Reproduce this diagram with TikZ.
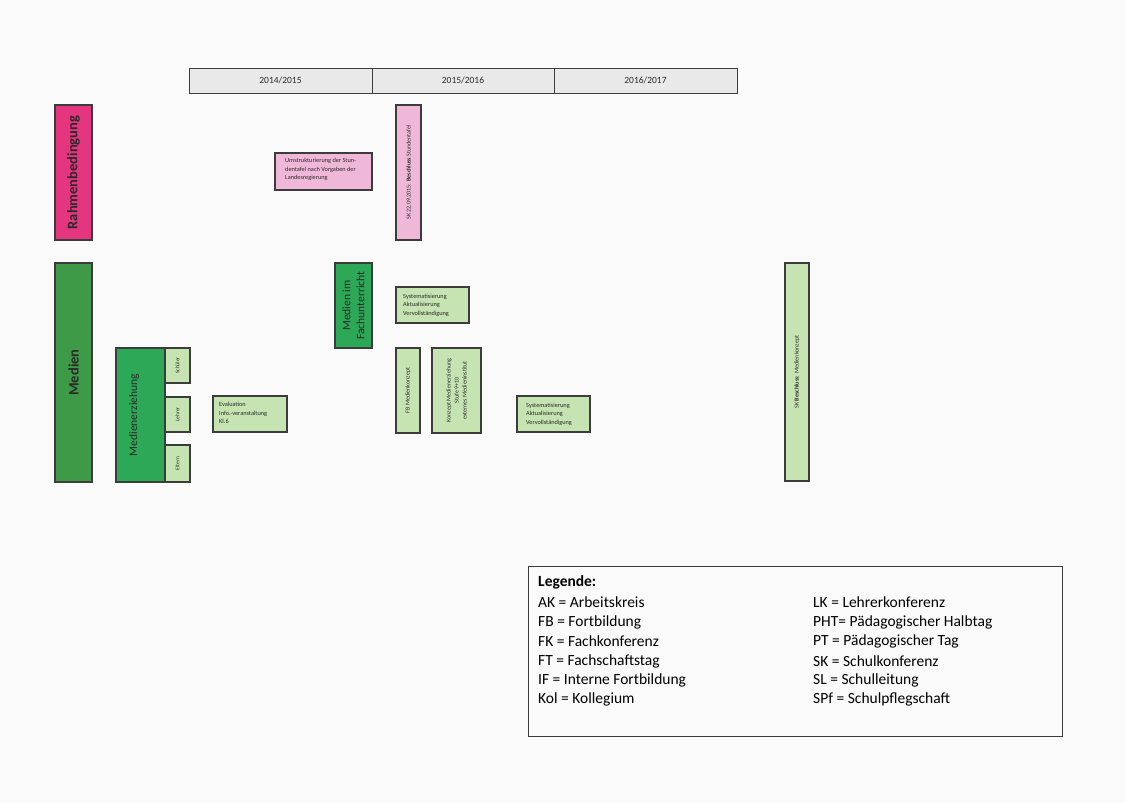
\documentclass[tikz,border=0pt]{standalone}
\usepackage{fontspec}
\setmainfont{Carlito}
\definecolor{paper}{HTML}{FAFAFB}
\definecolor{edge}{HTML}{3C3C3C}
\definecolor{headfill}{HTML}{E9E9EA}
\definecolor{rahmen}{HTML}{E5357E}
\definecolor{pinklight}{HTML}{F0B8D8}
\definecolor{medien}{HTML}{3F9A47}
\definecolor{mgreen}{HTML}{2CA856}
\definecolor{greenlight}{HTML}{C6E4B1}
\definecolor{textdark}{HTML}{2A2A2A}
\begin{document}
\begin{tikzpicture}[x=1pt,y=-1pt,
  panel/.style={draw=edge, line width=1.2pt, inner sep=0pt, outer sep=0pt},
  headcell/.style={panel, fill=headfill, line width=0.8pt, minimum height=25pt},
  tiny/.style={font=\fontsize{6}{8}\selectfont, text=textdark, inner sep=0pt},
  vtext/.style={rotate=90, text=textdark, inner sep=0pt, align=center},
  legendtxt/.style={font=\fontsize{15.5}{18}\selectfont, text=black, anchor=west, inner sep=0pt}]
\useasboundingbox (0,0) rectangle (1125,803);
\fill[paper] (0,0) rectangle (1125,803);

% school-year header
\node[headcell, minimum width=183pt] (y1) at (280.5,80.5) {};
\node[headcell, minimum width=182pt] (y2) at (463,80.5) {};
\node[headcell, minimum width=183pt] (y3) at (645.5,80.5) {};
\node[font=\fontsize{9.5}{11}\selectfont, text=textdark] (y1t) at (y1) {2014/2015};
\node[font=\fontsize{9.5}{11}\selectfont, text=textdark] (y2t) at (y2) {2015/2016};
\node[font=\fontsize{9.5}{11}\selectfont, text=textdark] (y3t) at (y3) {2016/2017};

% Rahmenbedingung row
\node[panel, fill=rahmen, minimum width=37pt, minimum height=135pt] (rb) at (73.5,172.5) {};
\node[vtext, font=\fontsize{14.5}{17}\selectfont\bfseries] (rbt) at (rb) {Rahmenbedingung};
\node[panel, fill=pinklight, minimum width=97pt, minimum height=37pt] (um) at (323.5,171.5) {};
\node[tiny, font=\fontsize{6.3}{8.6}\selectfont, align=left, anchor=west] (umt) at (285,169.5)
  {Umstrukturierung der Stun-\\dentafel nach Vorgaben der\\Landesregierung};
\node[panel, fill=pinklight, minimum width=25pt, minimum height=135pt] (sk1) at (408.5,172.5) {};
\node[vtext, font=\fontsize{6}{7}\selectfont] (sk1t) at (sk1) {SK 22.09.2015: \textbf{Beschluss} Stundentafel};

% Medien row
\node[panel, fill=medien, minimum width=37pt, minimum height=219pt] (md) at (73.5,372.5) {};
\node[vtext, font=\fontsize{14.5}{17}\selectfont\bfseries] (mdt) at (md) {Medien};

\node[panel, fill=mgreen, minimum width=37pt, minimum height=85pt] (mf) at (353.5,305.5) {};
\node[vtext, font=\fontsize{11.5}{14}\selectfont] (mft) at (mf) {Medien im\\Fachunterricht};

\node[panel, fill=greenlight, minimum width=73pt, minimum height=36pt] (sys1) at (432.5,305) {};
\node[tiny, align=left, anchor=west, font=\fontsize{6.3}{8.4}\selectfont] (sys1t) at (403,305)
  {Systematisierung\\Aktualisierung\\Vervollständigung};

\node[panel, fill=greenlight, minimum width=24pt, minimum height=85pt] (fb) at (408,390.5) {};
\node[vtext, font=\fontsize{6}{7}\selectfont] (fbt) at (fb) {FB Medienkonzept};

\node[panel, fill=greenlight, minimum width=49pt, minimum height=85pt] (kz) at (456.5,390.5) {};
\node[vtext, font=\fontsize{6}{8}\selectfont] (kzt) at (kz) {Konzept Medienerziehung\\Stufe 9+10\\externes Medieninstitut};

\node[panel, fill=mgreen, minimum width=49pt, minimum height=134pt] (me) at (140.5,415) {};
\node[vtext, font=\fontsize{11.5}{14}\selectfont] (met) at (134,415) {Medienerziehung};

\node[panel, fill=greenlight, minimum width=25pt, minimum height=35pt] (sch) at (177.5,365.5) {};
\node[vtext, font=\fontsize{5.5}{7}\selectfont] (scht) at (sch) {Schüler};
\node[panel, fill=greenlight, minimum width=25pt, minimum height=35pt] (le) at (177.5,414.5) {};
\node[vtext, font=\fontsize{5.5}{7}\selectfont] (let) at (le) {Lehrer};
\node[panel, fill=greenlight, minimum width=25pt, minimum height=37pt] (el) at (177.5,463.5) {};
\node[vtext, font=\fontsize{5.5}{7}\selectfont] (elt) at (el) {Eltern};

\node[panel, fill=greenlight, minimum width=74pt, minimum height=36pt] (ev) at (250,414) {};
\node[tiny, align=left, anchor=west, font=\fontsize{6.3}{8.4}\selectfont] (evt) at (219,413)
  {Evaluation\\Info.-veranstaltung\\Kl.6};

\node[panel, fill=greenlight, minimum width=73pt, minimum height=36pt] (sys2) at (553.5,414) {};
\node[tiny, align=left, anchor=west, font=\fontsize{6.3}{8.4}\selectfont] (sys2t) at (526,414)
  {Systematisierung\\Aktualisierung\\Vervollständigung};

\node[panel, fill=greenlight, minimum width=24pt, minimum height=218pt] (sk2) at (797,372) {};
\node[vtext, font=\fontsize{6}{7}\selectfont] (sk2t) at (sk2) {SK \textbf{Beschluss}: Medienkonzept};

% legend
\node[draw=edge, line width=0.9pt, fill=paper, minimum width=534pt, minimum height=170pt, inner sep=0pt] (lg) at (795,651) {};
\node[legendtxt, font=\fontsize{15.5}{18}\selectfont\bfseries] (lgh) at (538,582) {Legende:};
\node[legendtxt] (l1) at (538,602) {AK = Arbeitskreis};
\node[legendtxt] (l2) at (538,622) {FB = Fortbildung};
\node[legendtxt] (l3) at (538,641) {FK = Fachkonferenz};
\node[legendtxt] (l4) at (538,661) {FT = Fachschaftstag};
\node[legendtxt] (l5) at (538,680) {IF = Interne Fortbildung};
\node[legendtxt] (l6) at (538,699) {Kol = Kollegium};
\node[legendtxt] (r1) at (813,602) {LK = Lehrerkonferenz};
\node[legendtxt] (r2) at (813,622) {PHT= Pädagogischer Halbtag};
\node[legendtxt] (r3) at (813,641) {PT = Pädagogischer Tag};
\node[legendtxt] (r4) at (813,661) {SK = Schulkonferenz};
\node[legendtxt] (r5) at (813,680) {SL = Schulleitung};
\node[legendtxt] (r6) at (813,699) {SPf = Schulpflegschaft};
\end{tikzpicture}
\end{document}
